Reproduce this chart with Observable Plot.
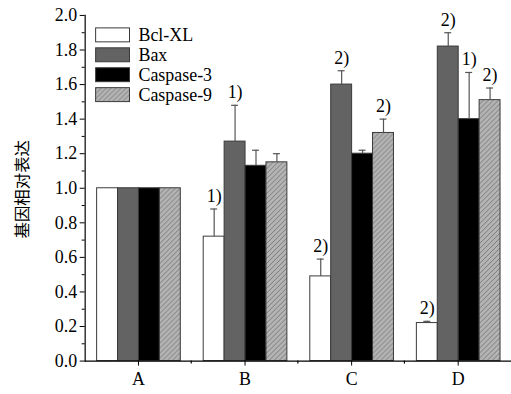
<!DOCTYPE html>
<html><head><meta charset="utf-8">
<script src="https://cdn.jsdelivr.net/npm/d3@7"></script>
<script src="https://cdn.jsdelivr.net/npm/@observablehq/plot@0.6"></script>
<style>html,body{margin:0;padding:0;background:#fff;overflow:hidden}</style>
</head><body><div id="chart"></div>
<script>
const groups = ["A", "B", "C", "D"];
const series = ["Bcl-XL", "Bax", "Caspase-3", "Caspase-9"];
const bclxl = [1.00, 0.72, 0.49, 0.22];
const bax   = [1.00, 1.27, 1.60, 1.82];
const casp3 = [1.00, 1.13, 1.20, 1.40];
const casp9 = [1.00, 1.15, 1.32, 1.51];
const bclxlErr = [0, 0.16, 0.10, 0.01];
const baxErr   = [0, 0.21, 0.08, 0.08];
const casp3Err = [0, 0.09, 0.02, 0.27];
const casp9Err = [0, 0.05, 0.08, 0.07];
const bclxlSig = ["", "1)", "2)", "2)"];
const baxSig   = ["", "1)", "2)", "2)"];
const casp3Sig = ["", "", "", "1)"];
const casp9Sig = ["", "", "2)", "2)"];
const yMajor = [0, 0.2, 0.4, 0.6, 0.8, 1.0, 1.2, 1.4, 1.6, 1.8, 2.0];
const yMinor = [0.1, 0.3, 0.5, 0.7, 0.9, 1.1, 1.3, 1.5, 1.7, 1.9];
const yLabel = "基因相对表达";

const fills = ["#ffffff", "#636363", "#000000", "url(#hatch)"];
const valueSets = [bclxl, bax, casp3, casp9];
const errSets = [bclxlErr, baxErr, casp3Err, casp9Err];
const sigSets = [bclxlSig, baxSig, casp3Sig, casp9Sig];

const data = [];
groups.forEach((g, gi) => {
  series.forEach((s, si) => {
    const v = valueSets[si][gi], e = errSets[si][gi];
    data.push({group: g, series: s, value: v, err: e, upper: v + e, sig: sigSets[si][gi]});
  });
});
const withErr = data.filter(d => d.err > 0);
const withSig = data.filter(d => d.sig);

const serif = "'Liberation Serif', 'Times New Roman', serif";

const chart = Plot.plot({
  width: 513,
  height: 394,
  marginLeft: 85,
  marginRight: 0,
  marginTop: 15,
  marginBottom: 32,
  style: {fontFamily: serif, fontSize: "18px", color: "#000", background: "#fff", overflow: "visible"},
  fx: {domain: groups, padding: 0, label: null},
  x: {domain: series, paddingInner: 0, paddingOuter: 0.49, axis: null},
  y: {domain: [0, 2], axis: null},
  color: {domain: series, range: fills},
  marks: [
    Plot.barY(data, {fx: "group", x: "series", y: "value", fill: "series", stroke: "#3a3a3a", strokeWidth: 1}),
    Plot.ruleX(withErr, {fx: "group", x: "series", y1: "value", y2: "upper", stroke: "#555", strokeWidth: 1.2}),
    Plot.tickY(withErr, {fx: "group", x: "series", y: "upper", stroke: "#555", strokeWidth: 1.2, insetLeft: 7, insetRight: 7}),
    Plot.text(withSig, {fx: "group", x: "series", y: "upper", text: "sig", dy: -13, fontSize: 18, fontFamily: serif, fill: "#000"}),
    Plot.ruleY([0], {stroke: "#000", strokeWidth: 1.2}),
    Plot.frame({anchor: "left", facetAnchor: "left", stroke: "#000", strokeWidth: 1.2}),
    Plot.axisY({ticks: yMajor, tickFormat: d3.format(".1f"), tickSize: 5, tickPadding: 3, fontSize: 18, label: null}),
    Plot.axisY({ticks: yMinor, tickSize: 3, tickFormat: () => "", label: null}),
    Plot.axisFx({anchor: "bottom", tickSize: 5, tickPadding: 6, fontSize: 18, label: null})
  ]
});

document.getElementById("chart").appendChild(chart);

const svg = d3.select(chart);
const defs = svg.insert("defs", ":first-child");
const pat = defs.append("pattern").attr("id", "hatch").attr("patternUnits", "userSpaceOnUse")
  .attr("width", 5).attr("height", 5);
pat.append("rect").attr("width", 5).attr("height", 5).attr("fill", "#b4b4b4");
pat.append("path").attr("d", "M-1,1 l2,-2 M0,5 l5,-5 M4,6 l2,-2").attr("stroke", "#7a7a7a").attr("stroke-width", 1);

// minor ticks on the bottom axis between groups
const fx = chart.scale("fx");
const y0 = chart.scale("y").apply(0);
groups.slice(1).forEach(g => {
  const xb = fx.apply(g);
  svg.append("line").attr("x1", xb).attr("x2", xb).attr("y1", y0).attr("y2", y0 + 3)
    .attr("stroke", "#000").attr("stroke-width", 1.2);
});

// y axis title
svg.append("text").attr("transform", "translate(21,190) rotate(-90)")
  .style("text-anchor", "middle").attr("dominant-baseline", "central")
  .style("font-family", "'Noto Sans CJK SC', sans-serif").style("font-size", "16.5px")
  .attr("fill", "#000").text(yLabel);

// legend
const lg = svg.append("g");
series.forEach((s, i) => {
  lg.append("rect").attr("x", 96).attr("y", 28 + 20 * i).attr("width", 34).attr("height", 14)
    .attr("fill", fills[i]).attr("stroke", "#3a3a3a").attr("stroke-width", 1);
  lg.append("text").attr("x", 139).attr("y", 35.5 + 20 * i).attr("dominant-baseline", "central")
    .style("text-anchor", "start")
    .style("font-family", serif).style("font-size", "18px").attr("fill", "#000").text(s);
});
</script>
</body></html>
